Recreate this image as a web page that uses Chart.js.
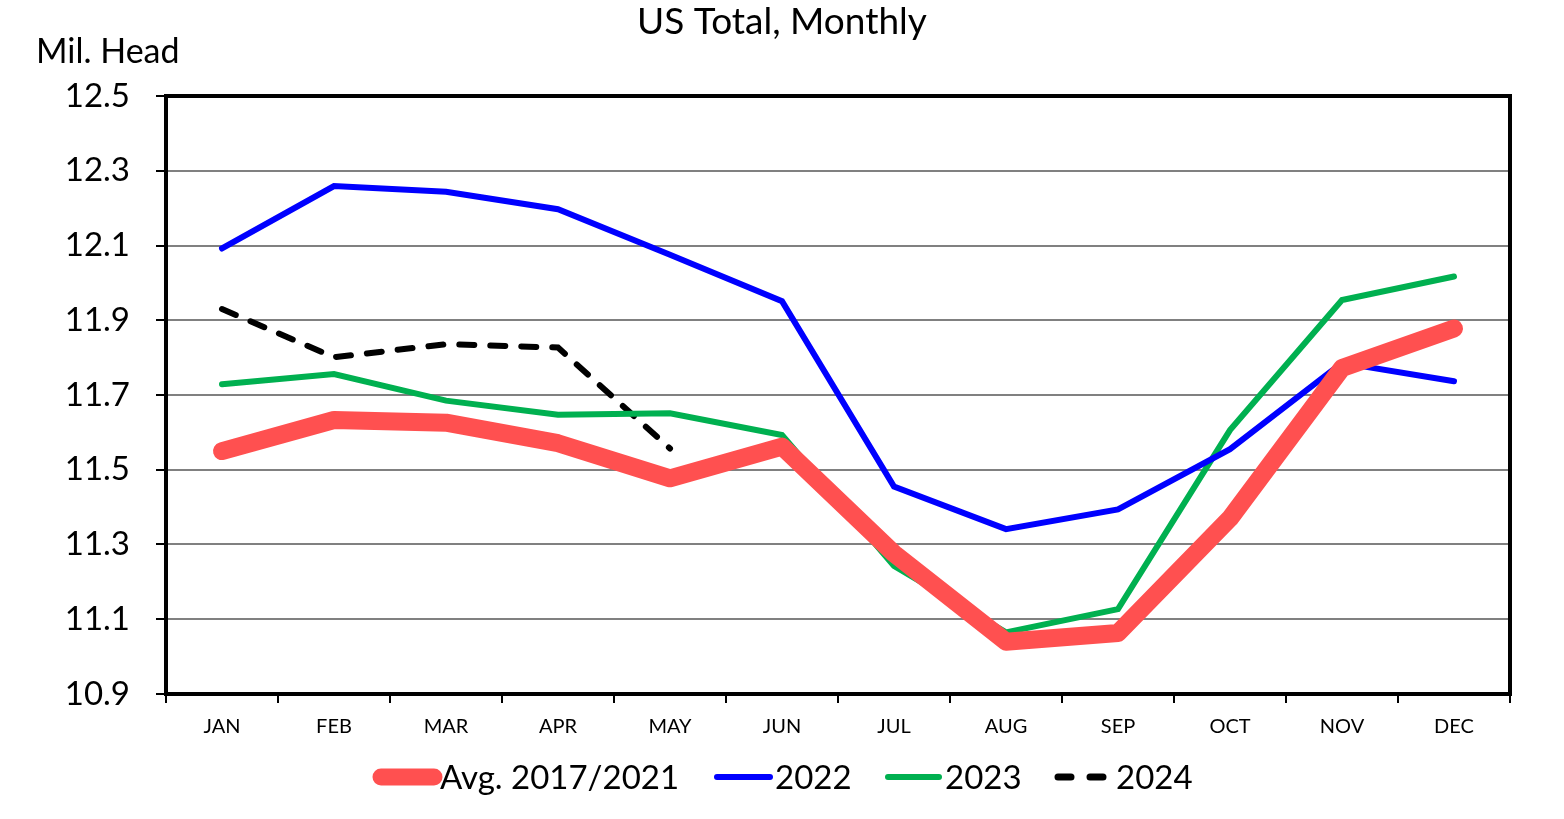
<!DOCTYPE html>
<html>
<head>
<meta charset="utf-8">
<script src="https://cdn.jsdelivr.net/npm/chart.js@4"></script>
<style>
  html, body { margin: 0; padding: 0; background: #fff; }
  #wrap { width: 1564px; height: 819px; }
</style>
</head>
<body>
<div id="wrap"><canvas id="myChart" width="1564" height="819"></canvas></div>
<script>
'use strict';

const months = ['JAN', 'FEB', 'MAR', 'APR', 'MAY', 'JUN', 'JUL', 'AUG', 'SEP', 'OCT', 'NOV', 'DEC'];
const avg1721 = [11.550, 11.633, 11.626, 11.571, 11.477, 11.562, 11.276, 11.040, 11.063, 11.370, 11.772, 11.878];
const y2022 = [12.092, 12.259, 12.244, 12.197, 12.075, 11.951, 11.455, 11.341, 11.394, 11.555, 11.786, 11.737];
const y2023 = [11.729, 11.756, 11.685, 11.647, 11.651, 11.593, 11.243, 11.065, 11.127, 11.606, 11.954, 12.017];
const y2024 = [11.930, 11.801, 11.836, 11.827, 11.557, null, null, null, null, null, null, null];
const yTicks = [10.9, 11.1, 11.3, 11.5, 11.7, 11.9, 12.1, 12.3, 12.5];

const FONT = 'Lato, "Open Sans", sans-serif';

let canvasElem = document.getElementById('myChart');

// box around the plot + free text (title, unit, legend)
const decorations = {
  id: 'decorations',
  afterDraw(chart) {
    const ctx = chart.ctx;
    const a = chart.chartArea;
    ctx.save();
    ctx.strokeStyle = '#000';
    ctx.lineWidth = 4;
    ctx.strokeRect(a.left, a.top, a.right - a.left, a.bottom - a.top);

    ctx.fillStyle = '#000';
    ctx.textBaseline = 'middle';
    ctx.textAlign = 'center';
    ctx.font = '37px ' + FONT;
    ctx.fillText('US Total, Monthly', 782, 22);
    ctx.textAlign = 'left';
    ctx.font = '34px ' + FONT;
    ctx.fillText('Mil. Head', 36, 52);

    // legend
    const items = chart.data.datasets;
    const xs = [[381, 434, 440], [717, 770, 775], [888, 939, 945], [1058, 1106, 1116]];
    ctx.font = '33px ' + FONT;
    ctx.lineCap = 'round';
    for (let i = 0; i < items.length; i++) {
      const d = items[i];
      ctx.strokeStyle = d.borderColor;
      ctx.lineWidth = d.legendWidth;
      ctx.setLineDash(d.legendDash || []);
      ctx.beginPath();
      ctx.moveTo(xs[i][0], 777);
      ctx.lineTo(xs[i][1], 777);
      ctx.stroke();
      ctx.setLineDash([]);
      ctx.fillStyle = '#000';
      ctx.fillText(d.label, xs[i][2], 778);
    }
    ctx.restore();
  }
};

function renderChart() {
  let chartObj = {
    type: 'line',
    data: {
      labels: months,
      datasets: [{
        label: 'Avg. 2017/2021',
        data: avg1721,
        borderColor: '#FF5050',
        borderWidth: 18,
        legendWidth: 17,
        borderCapStyle: 'round',
        borderJoinStyle: 'round'
      },
      {
        label: '2022',
        data: y2022,
        borderColor: '#0000FF',
        borderWidth: 6,
        legendWidth: 6,
        borderCapStyle: 'round'
      },
      {
        label: '2023',
        data: y2023,
        borderColor: '#00B050',
        borderWidth: 6,
        legendWidth: 6,
        borderCapStyle: 'round'
      },
      {
        label: '2024',
        data: y2024,
        borderColor: '#000000',
        borderWidth: 6,
        legendWidth: 7,
        borderDash: [15, 16],
        legendDash: [13, 19],
        borderCapStyle: 'round'
      }]
    },
    options: {
      responsive: false,
      animation: false,
      events: [],
      spanGaps: false,
      elements: { point: { radius: 0 }, line: { tension: 0 } },
      layout: { padding: { left: 0, right: 54, top: 96, bottom: 0 } },
      plugins: {
        legend: { display: false },
        title: { display: false },
        tooltip: { enabled: false }
      },
      scales: {
        x: {
          offset: true,
          afterFit(scale) { scale.height = 125; },
          grid: {
            offset: true,
            drawOnChartArea: false,
            drawTicks: true,
            tickLength: 9,
            tickColor: '#000',
            lineWidth: 2
          },
          border: { color: '#000', width: 4 },
          ticks: {
            color: '#000',
            font: { family: FONT, size: 20 },
            padding: 12,
            maxRotation: 0
          }
        },
        y: {
          min: 10.9,
          max: 12.5,
          afterFit(scale) { scale.width = 166; },
          afterBuildTicks(scale) { scale.ticks = yTicks.map(v => ({ value: v })); },
          grid: {
            color: '#808080',
            lineWidth: 2,
            tickLength: 10,
            tickColor: '#000'
          },
          border: { color: '#000', width: 4 },
          ticks: {
            color: '#000',
            font: { family: FONT, size: 33 },
            padding: 26,
            callback: v => Number(v).toFixed(1)
          }
        }
      }
    },
    plugins: [decorations]
  };
  new Chart(canvasElem, chartObj);
}
renderChart();
</script>
</body>
</html>
